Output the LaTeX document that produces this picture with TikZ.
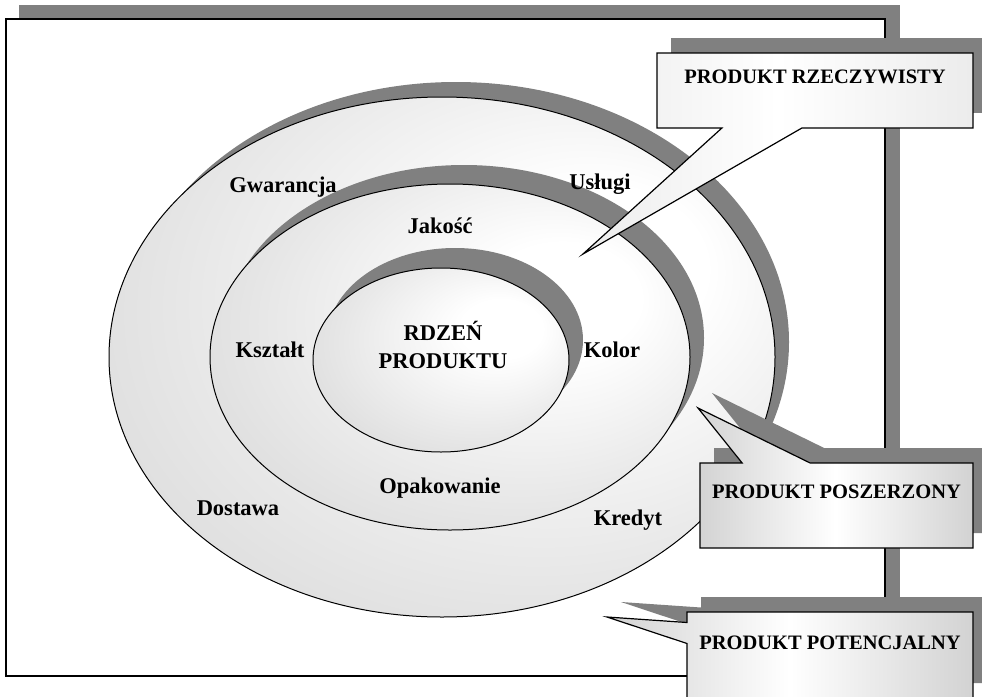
\documentclass[tikz,border=0pt]{standalone}
\usepackage{fontspec}
\setmainfont{Liberation Serif}
\usetikzlibrary{shapes.geometric,shapes.callouts,shadows}
\pgfdeclareradialshading{ringshade}{\pgfpoint{14bp}{10bp}}{color(0bp)=(white); color(8bp)=(white); color(52bp)=(gray!45)}

\begin{document}
\begin{tikzpicture}[x=1pt,y=-1pt,
  every node/.style={font=\bfseries\fontsize{22.5}{28}\selectfont},%
  dr/.style={drop shadow={shadow xshift=14pt,shadow yshift=#1,fill=gray,opacity=1}},%
  dr/.default=15pt,%
  ring/.style={ellipse,draw,line width=1pt,shade,shading=ringshade,inner sep=0pt},%
  lab/.style={anchor=base},%
  co/.style={rectangle callout,draw,line width=1.2pt,inner sep=0pt,%
    font=\bfseries\fontsize{20.5}{24}\selectfont},%
  gr/.style={left color=gray!35,right color=gray!35,middle color=white},%
  lg/.style={left color=gray!15,right color=gray!15,middle color=white},%
  ]
  \useasboundingbox (0,0) rectangle (982,696);

  % frame
  \fill[gray] (19,5) rectangle (900,662);
  \draw[fill=white,line width=1.5pt] (6,19) rectangle (885,676);

  % rings
  \node (outer) [ring,dr,minimum width=666pt,minimum height=520pt] at (442,357) {};
  \node (middle) [ring,dr=19pt,minimum width=480pt,minimum height=346pt] at (450,357) {};
  \node (core) [ring,dr=20pt,minimum width=256pt,minimum height=184pt] at (441,360) {};

  \node (gwar) [lab] at (283,192) {Gwarancja};
  \node (uslugi) [lab] at (600,189) {Usługi};
  \node (jakosc) [lab] at (440,233) {Jakość};
  \node (ksztalt) [lab] at (270,357) {Kształt};
  \node (kolor) [lab] at (612,357) {Kolor};
  \node (rdzen) [lab] at (443,340) {RDZEŃ};
  \node (produktu) [lab] at (443,368) {PRODUKTU};
  \node (opak) [lab] at (440,493) {Opakowanie};
  \node (dostawa) [lab] at (238,515) {Dostawa};
  \node (kredyt) [lab] at (628,525) {Kredyt};

  % callouts
  \coordinate (tipR) at (583,254);
  \coordinate (tipS) at (698,408);
  \coordinate (tipP) at (607,617);

  \fill[gray] (671,38) rectangle (987,113);
  \node (rzecz) [co,lg,minimum width=316pt,text height=30pt,text depth=45pt,%
    callout absolute pointer={(tipR)},callout pointer width=80pt%
  ] at (815,90.5) {PRODUKT RZECZYWISTY};

  \node (poszer) [co,gr,dr,minimum width=273pt,text height=35pt,text depth=50pt,%
    callout absolute pointer={(tipS)},callout pointer width=68pt%
  ] at (836.5,505.5) {PRODUKT POSZERZONY};

  \node (poten) [co,gr,dr,minimum width=286pt,text height=37pt,text depth=49pt,%
    callout absolute pointer={(tipP)},callout pointer width=21pt%
  ] at (830,655) {PRODUKT POTENCJALNY};
\end{tikzpicture}
\end{document}
